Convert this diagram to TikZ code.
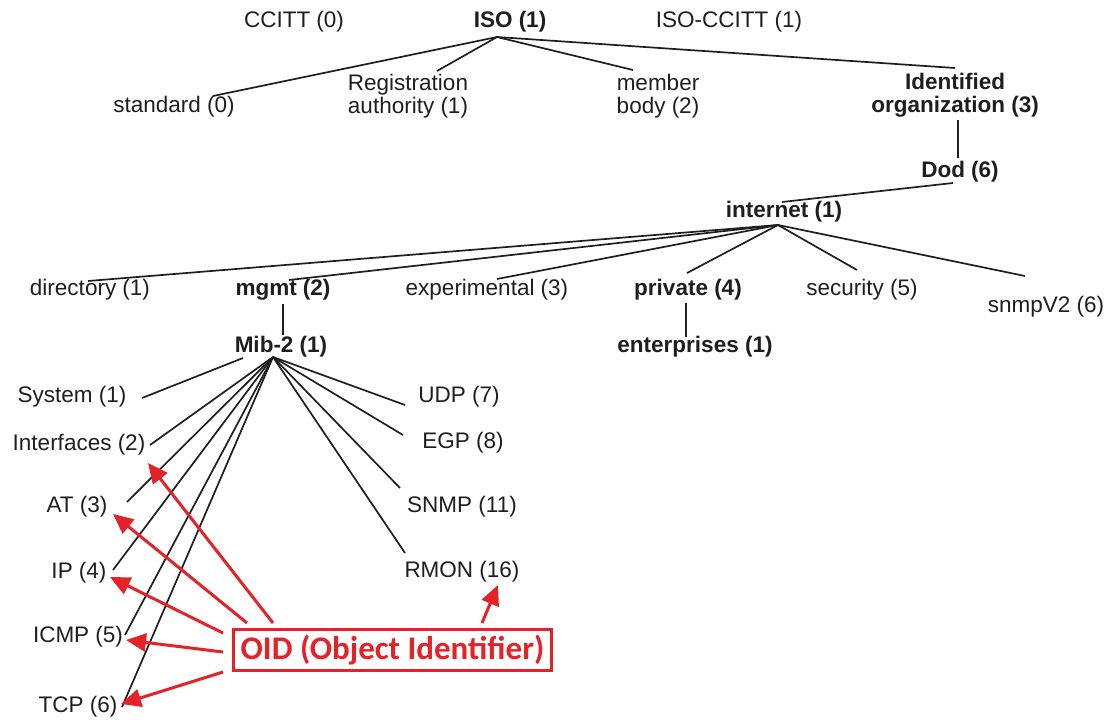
\documentclass[tikz,border=0pt]{standalone}
\usepackage{fontspec}
\setmainfont{Liberation Sans}
\newfontfamily\calibrifont{Carlito}
\usetikzlibrary{arrows.meta,calc}
\definecolor{ink}{RGB}{30,30,30}
\definecolor{oidred}{RGB}{228,34,40}
\tikzset{
  lbl/.style={inner sep=1pt,text=ink,font=\fontsize{22.5}{23}\selectfont,align=center},
  blbl/.style={lbl,font=\fontsize{22.5}{23}\selectfont\bfseries},
  link/.style={draw=ink,line width=1.7pt},
  oidbox/.style={draw=oidred,line width=3pt,text=oidred,inner xsep=5pt,inner ysep=3pt,
    minimum width=318pt,minimum height=41pt,font=\calibrifont\fontsize{33}{36}\selectfont\bfseries},
  oidarrow/.style={draw=oidred,line width=3pt,-{Triangle[length=20pt,width=18pt]},fill=oidred}
}
\begin{document}
\begin{tikzpicture}[x=1pt,y=-1pt]
\useasboundingbox (0,0) rectangle (1115,720);
% top level
\node[lbl]  (ccitt)    at (294,22) {CCITT (0)};
\node[blbl] (iso)      at (510,22) {ISO (1)};
\node[lbl]  (isoccitt) at (729,22) {ISO-CCITT (1)};
% children of ISO
\node[lbl]  (std) at (174,107) {standard (0)};
\node[lbl]  (reg) at (408,96.5) {Registration\\authority (1)};
\node[lbl]  (mem) at (658,96) {member\\body (2)};
\node[blbl] (ido) at (955,95) {Identified\\organization (3)};
\node[blbl] (dod) at (960,172) {Dod (6)};
\node[blbl] (inet) at (784,212) {internet (1)};
% children of internet
\node[lbl]  (dir)   at (90,290)   {directory (1)};
\node[blbl] (mgmt)  at (283,290)  {mgmt (2)};
\node[lbl]  (exp)   at (487,290)  {experimental (3)};
\node[blbl] (priv)  at (688,290)  {private (4)};
\node[lbl]  (sec)   at (862,290)  {security (5)};
\node[lbl]  (snmp2) at (1046,307) {snmpV2 (6)};
\node[blbl] (mib)   at (281,347)  {Mib-2 (1)};
\node[blbl] (ent)   at (695,347)  {enterprises (1)};
% MIB-2 groups
\node[lbl] (sys)  at (72,397)  {System (1)};
\node[lbl] (ifc)  at (79,445)  {Interfaces (2)};
\node[lbl] (at)   at (77,507)  {AT (3)};
\node[lbl] (ip)   at (79,573)  {IP (4)};
\node[lbl] (icmp) at (78,637)  {ICMP (5)};
\node[lbl] (tcp)  at (78,707)  {TCP (6)};
\node[lbl] (udp)  at (459,397) {UDP (7)};
\node[lbl] (egp)  at (463,443) {EGP (8)};
\node[lbl] (snmp) at (462,507) {SNMP (11)};
\node[lbl] (rmon) at (462,572) {RMON (16)};
\node[oidbox] (oid) at (392.5,650) {OID (Object Identifier)};

% branch points
\coordinate (isoJ)  at ($(iso)+(-13,15)$);
\coordinate (inetJ) at ($(inet)+(-6,13)$);
\coordinate (mibJ)  at ($(mib)+(-8,10)$);

% ISO subtree
\draw[link] (isoJ) -- ($(std)+(39,-11)$);
\draw[link] (isoJ) -- ($(reg)+(29,-25.5)$);
\draw[link] (isoJ) -- ($(mem)+(-25,-26)$);
\draw[link] (isoJ) -- ($(ido)+(0,-27)$);
\draw[link] ($(ido)+(3,25)$) -- ($(dod)+(-2,-14)$);
\draw[link] ($(dod)+(-7,11)$) -- ($(inet)+(-2,-10)$);

% internet subtree
\draw[link] (inetJ) -- ($(dir)+(-2,-9)$);
\draw[link] (inetJ) -- ($(mgmt)+(6,-10)$);
\draw[link] (inetJ) -- ($(exp)+(10,-11)$);
\draw[link] (inetJ) -- ($(priv)+(-1,-17)$);
\draw[link] (inetJ) -- ($(sec)+(-5,-20)$);
\draw[link] (inetJ) -- ($(snmp2)+(-21,-31)$);
\draw[link] ($(mgmt)+(0,14)$) -- ($(mib)+(2,-12)$);
\draw[link] ($(priv)+(-2,13)$) -- ($(ent)+(-9,-10)$);

% MIB-2 subtree
\draw[link] ($(mib)+(-38,11)$) -- ($(sys)+(70,1)$);
\draw[link] (mibJ) -- ($(ifc)+(71,0)$);
\draw[link] (mibJ) -- ($(at)+(50,-5)$);
\draw[link] (mibJ) -- ($(ip)+(34,-3)$);
\draw[link] (mibJ) -- ($(icmp)+(47,-2)$);
\draw[link] (mibJ) -- ($(tcp)+(44,0)$);
\draw[link] (mibJ) -- ($(udp)+(-54,8)$);
\draw[link] (mibJ) -- ($(egp)+(-60,-8)$);
\draw[link] (mibJ) -- ($(snmp)+(-62,-19)$);
\draw[link] (mibJ) -- ($(rmon)+(-57,-19)$);

% OID pointers
\draw[oidarrow] ($(oid)+(-119.5,-27)$) -- ($(ifc)+(69,18)$);
\draw[oidarrow] ($(oid)+(-145.5,-27)$) -- ($(at)+(36,7)$);
\draw[oidarrow] ($(oid)+(-169.5,-17)$) -- ($(ip)+(31,4)$);
\draw[oidarrow] ($(oid)+(-169.5,2)$) -- ($(icmp)+(48,3)$);
\draw[oidarrow] ($(oid)+(-169.5,22)$) -- ($(tcp)+(43,-3)$);
\draw[oidarrow] ($(oid)+(89.5,-27)$) -- ($(rmon)+(36,13)$);
\end{tikzpicture}
\end{document}
